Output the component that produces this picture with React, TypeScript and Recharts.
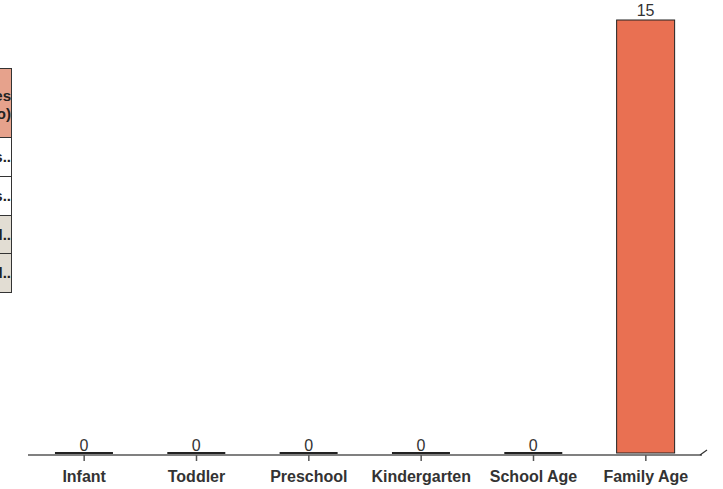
import React from "react"
import { BarChart, Bar, XAxis, YAxis, LabelList } from "recharts"

const categories = ["Infant", "Toddler", "Preschool", "Kindergarten", "School Age", "Family Age"]
const counts = [0, 0, 0, 0, 0, 15]

// partial table that sits cut off at the left edge
const tableHeader = ["Total Reserves", "(Actual Info)"]
const tableRows = ["Available slots...", "Enrolled slots...", "Waitlist total...", "Total Reserved..."]

const chartData = categories.map((name, i) => ({ name, count: counts[i] }))

const FONT = "'Liberation Sans', Arial, sans-serif"

// recharts skips zero-height rects, the original draws a flat line for them
const BarShape = (props: any) => {
  const { x, y, width, height } = props
  if (!height) {
    return <line x1={x} x2={x + width} y1={y - 2} y2={y - 2} stroke="#222" strokeWidth={2} />
  }
  return <rect x={x} y={y} width={width} height={height - 2} fill="#e97052" stroke="#222" strokeWidth={1} />
}

function SideTable() {
  const cell: React.CSSProperties = {
    position: "absolute",
    left: -200,
    width: 212,
    boxSizing: "border-box",
    border: "1px solid #333",
    fontFamily: FONT,
    fontWeight: "bold",
    fontSize: 15,
    color: "#222",
    textAlign: "right",
    overflow: "hidden",
    whiteSpace: "nowrap",
  }
  const rowBg = ["#ffffff", "#ffffff", "#e2ddd3", "#e2ddd3"]
  return (
    <div style={{ position: "absolute", left: 0, top: 0, width: 14, height: 300, overflow: "hidden" }}>
      <div style={{ ...cell, top: 68, height: 70, background: "#e6a28c", paddingTop: 18, lineHeight: "18px" }}>
        {tableHeader.map((t) => (
          <div key={t}>{t}</div>
        ))}
      </div>
      {tableRows.map((t, i) => (
        <div
          key={t}
          style={{ ...cell, top: 137 + i * 38.8, height: 39.8, background: rowBg[i], lineHeight: "38px" }}
        >
          {t.replace("...", "..")}
        </div>
      ))}
    </div>
  )
}

export default function App() {
  return (
    <div style={{ position: "absolute", left: 0, top: 0, width: 723, height: 489, background: "#fff" }}>
      <BarChart
        width={723}
        height={489}
        data={chartData}
        margin={{ top: 20, right: 21, bottom: 0, left: 28 }}
        barCategoryGap="24%"
      >
        <XAxis
          dataKey="name"
          height={34}
          stroke="#808080"
          axisLine={{ stroke: "#808080", strokeWidth: 2 }}
          tickLine={{ stroke: "#555", strokeWidth: 1.5 }}
          tickSize={6}
          tickMargin={10}
          tick={{ fill: "#333", fontFamily: FONT, fontWeight: "bold", fontSize: 16 }}
          interval={0}
        />
        <YAxis hide domain={[0, 15]} />
        <Bar dataKey="count" isAnimationActive={false} shape={BarShape}>
          <LabelList
            dataKey="count"
            position="top"
            offset={4}
            style={{ fill: "#333", fontFamily: FONT, fontSize: 16 }}
          />
        </Bar>
      </BarChart>
      <svg style={{ position: "absolute", left: 0, top: 0 }} width={723} height={489} pointerEvents="none">
        <line x1={700} y1={455} x2={707} y2={450} stroke="#333" strokeWidth={1.2} />
      </svg>
      <SideTable />
    </div>
  )
}
